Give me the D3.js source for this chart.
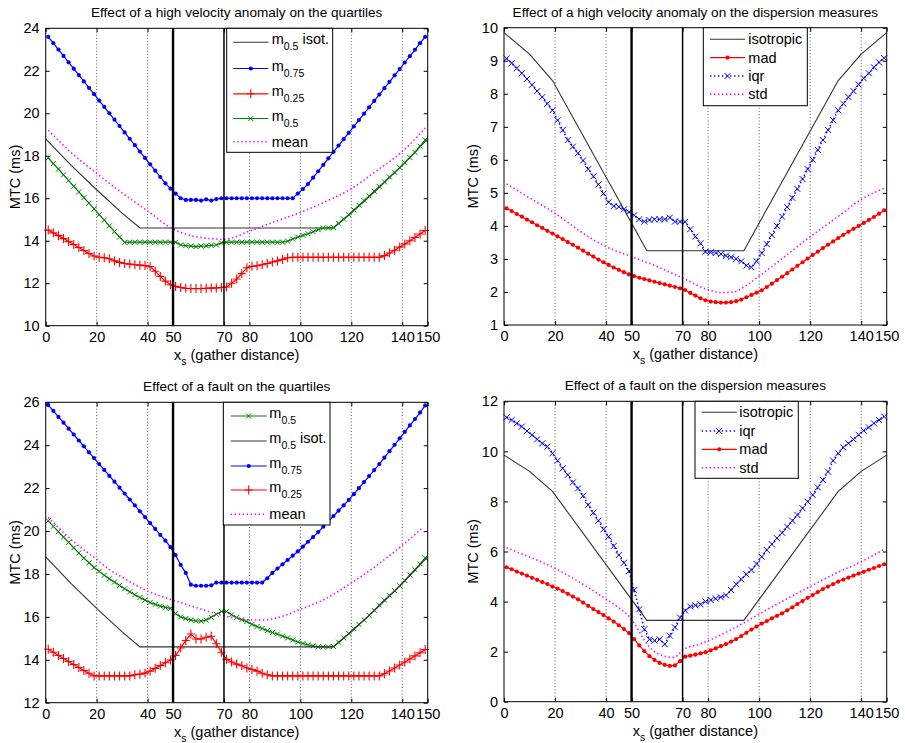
<!DOCTYPE html>
<html><head><meta charset="utf-8">
<script src="https://cdn.jsdelivr.net/npm/d3@7"></script>
<style>body{margin:0;background:#fff}</style>
</head><body><svg id="c" width="905" height="743"></svg>
<script>
// ---------- DATA ----------
const xTicks = [0,20,40,50,70,80,100,120,140,150];
const gridX = [20,40,80,100,120,140];
const anomalyEdges = [50,70];
const gatherX = [1,3,5,7,9,11,13,15,17,19,21,23,25,27,29,31,33,35,37,39,41,43,45,47,49,51,53,55,57,59,61,63,65,67,69,71,73,75,77,79,81,83,85,87,89,91,93,95,97,99,101,103,105,107,109,111,113,115,117,119,121,123,125,127,129,131,133,135,137,139,141,143,145,147,149];

const ticksHV = [10,12,14,16,18,20,22,24];
const ticksHVd = [1,2,3,4,5,6,7,8,9,10];
const ticksF = [12,14,16,18,20,22,24,26];
const ticksFd = [0,2,4,6,8,10,12];

// isotropic reference curves
const isoQuartX = [0,10,20,30,37,113,120,130,140,150];
const isoQuartY = [18.8,17.55,16.4,15.3,14.6,14.6,15.3,16.4,17.55,18.8];
const isoDispX = [0,10,19,56,94,131,140,150];
const isoDispY = [9.85,9.2,8.4,3.25,3.25,8.4,9.2,9.85];

// Panel 1: high velocity anomaly, quartiles
const hvM75 = [23.6,23.3,23.0,22.7,22.4,22.1,21.8,21.5,21.2,20.9,
 20.6,20.3,20.0,19.7,19.4,19.1,18.8,18.5,18.2,17.9,
 17.6,17.3,17.0,16.7,16.45,16.22,16.0,15.92,15.92,15.92,
 15.89,15.95,15.89,15.96,16.0,16.0,16.0,16.0,16.0,16.0,
 16.0,16.0,16.0,16.0,16.0,16.0,16.0,16.0,16.0,16.22,
 16.43,16.67,16.97,17.27,17.57,17.88,18.18,18.48,18.78,19.08,
 19.38,19.68,19.98,20.28,20.58,20.88,21.18,21.48,21.78,22.08,
 22.39,22.69,22.99,23.3,23.6];
const hvM50 = [17.9,17.63,17.37,17.1,16.83,16.57,16.3,16.03,15.77,15.5,
 15.23,14.97,14.7,14.43,14.17,13.92,13.93,13.93,13.93,13.93,
 13.93,13.93,13.93,13.93,13.93,13.93,13.8,13.77,13.75,13.72,
 13.75,13.76,13.78,13.8,13.9,13.93,13.93,13.93,13.93,13.93,
 13.93,13.93,13.93,13.93,13.93,13.93,13.93,13.98,14.08,14.17,
 14.25,14.33,14.42,14.52,14.6,14.6,14.62,14.82,15.02,15.23,
 15.45,15.67,15.89,16.11,16.33,16.55,16.77,17.0,17.22,17.45,
 17.68,17.92,18.16,18.45,18.75];
const hvM25 = [14.5,14.37,14.24,14.1,13.96,13.82,13.68,13.54,13.4,13.28,
 13.22,13.2,13.15,13.05,12.98,12.93,12.9,12.87,12.85,12.83,
 12.78,12.56,12.32,12.1,11.93,11.85,11.8,11.76,11.75,11.75,
 11.75,11.76,11.77,11.78,11.8,11.82,12.0,12.2,12.45,12.73,
 12.8,12.82,12.87,12.93,13.0,13.05,13.12,13.2,13.22,13.22,
 13.22,13.22,13.22,13.22,13.22,13.22,13.22,13.22,13.22,13.22,
 13.22,13.22,13.22,13.22,13.22,13.22,13.3,13.42,13.55,13.7,
 13.85,14.0,14.15,14.32,14.48];
const hvMeanX = [1,10,20,30,40,50,60,70,80,90,100,110,120,130,140,149];
const hvMeanY = [19.2,18.15,17.17,16.25,15.4,14.55,14.17,14.07,14.45,14.9,15.33,15.85,16.45,17.3,18.2,19.3];

// Panel 2: high velocity anomaly, dispersion
const hvIqr = [9.07,8.93,8.77,8.62,8.45,8.27,8.08,7.9,7.7,7.5,
 7.2,6.9,6.6,6.4,6.2,5.98,5.72,5.5,5.25,4.98,
 4.72,4.6,4.58,4.5,4.42,4.32,4.2,4.13,4.18,4.2,
 4.2,4.2,4.25,4.13,4.13,4.12,3.9,3.68,3.47,3.22,
 3.2,3.18,3.15,3.1,3.05,3.0,2.93,2.8,2.75,2.93,
 3.18,3.45,3.72,4.0,4.28,4.57,4.85,5.12,5.42,5.72,
 6.0,6.3,6.6,6.9,7.2,7.5,7.7,7.9,8.08,8.28,
 8.47,8.62,8.8,8.95,9.08];
const hvMad = [4.53,4.45,4.36,4.28,4.19,4.11,4.02,3.94,3.85,3.77,
 3.68,3.6,3.51,3.43,3.34,3.25,3.16,3.07,2.98,2.9,
 2.82,2.74,2.67,2.6,2.53,2.48,2.43,2.39,2.35,2.31,
 2.27,2.23,2.19,2.15,2.11,2.06,1.97,1.89,1.81,1.75,
 1.71,1.69,1.68,1.68,1.69,1.72,1.77,1.84,1.91,1.98,
 2.05,2.15,2.25,2.36,2.46,2.57,2.68,2.79,2.9,3.01,
 3.12,3.22,3.33,3.43,3.53,3.63,3.73,3.82,3.91,4.0,
 4.09,4.18,4.27,4.37,4.47];
const hvStdX = [1,10,20,30,40,50,60,70,80,85,90,95,100,110,120,130,140,149];
const hvStdY = [5.27,4.85,4.38,3.83,3.37,3.07,2.77,2.42,2.07,1.98,2.0,2.2,2.48,3.07,3.67,4.23,4.8,5.14];

// Panel 3: fault, quartiles
const fM50 = [20.48,20.22,19.97,19.72,19.47,19.22,18.98,18.74,18.52,18.3,
 18.12,17.94,17.77,17.62,17.46,17.31,17.17,17.03,16.9,16.78,
 16.67,16.58,16.5,16.44,16.4,16.15,16.0,15.92,15.85,15.82,
 15.8,15.85,15.98,16.12,16.25,16.25,16.1,15.97,15.87,15.78,
 15.65,15.55,15.46,15.36,15.27,15.2,15.1,15.02,14.92,14.83,
 14.76,14.7,14.65,14.6,14.6,14.6,14.62,14.82,15.02,15.23,
 15.45,15.65,15.85,16.07,16.3,16.55,16.78,17.0,17.22,17.45,
 17.7,17.95,18.2,18.47,18.75];
const fM75 = [25.87,25.6,25.32,25.05,24.77,24.5,24.22,23.95,23.67,23.4,
 23.12,22.85,22.57,22.3,22.02,21.75,21.47,21.2,20.92,20.65,
 20.37,20.1,19.82,19.55,19.25,18.88,18.42,18.05,17.5,17.45,
 17.45,17.45,17.47,17.6,17.6,17.6,17.6,17.6,17.6,17.6,
 17.6,17.6,17.6,17.8,18.05,18.25,18.45,18.65,18.85,19.05,
 19.27,19.5,19.72,19.95,20.2,20.45,20.7,20.95,21.2,21.45,
 21.72,22.0,22.28,22.56,22.84,23.12,23.42,23.72,24.02,24.32,
 24.62,24.92,25.22,25.52,25.85];
const fM25 = [14.49,14.35,14.2,14.06,13.92,13.78,13.64,13.5,13.37,13.25,
 13.25,13.25,13.25,13.25,13.25,13.25,13.25,13.3,13.33,13.38,
 13.47,13.6,13.73,13.86,13.99,14.2,14.55,14.9,15.2,14.97,
 14.97,15.05,15.1,14.75,14.35,14.02,13.9,13.8,13.72,13.62,
 13.55,13.47,13.37,13.3,13.25,13.25,13.25,13.25,13.25,13.25,
 13.25,13.25,13.25,13.25,13.25,13.25,13.25,13.25,13.25,13.25,
 13.25,13.25,13.25,13.25,13.25,13.25,13.35,13.48,13.62,13.76,
 13.9,14.04,14.18,14.33,14.48];
const fMeanX = [1,10,20,25,30,40,50,60,70,75,80,85,90,100,110,120,130,140,148];
const fMeanY = [20.64,19.6,18.68,18.2,17.85,17.2,16.78,16.4,16.05,15.93,15.86,15.85,15.93,16.35,16.85,17.58,18.4,19.33,20.15];

// Panel 4: fault, dispersion
const fIqr = [11.36,11.25,11.12,10.99,10.81,10.66,10.48,10.32,10.19,9.92,
 9.63,9.32,9.06,8.76,8.52,8.23,7.86,7.55,7.23,6.89,
 6.59,6.22,5.86,5.55,5.22,4.46,3.69,2.89,2.49,2.44,
 2.49,2.30,2.64,2.97,3.36,3.64,3.80,3.85,3.89,4.0,
 4.06,4.12,4.17,4.25,4.46,4.69,4.89,5.09,5.26,5.50,
 5.79,6.06,6.29,6.53,6.75,6.99,7.23,7.46,7.73,7.99,
 8.26,8.56,8.86,9.19,9.63,9.92,10.16,10.32,10.48,10.66,
 10.83,10.96,11.12,11.25,11.39];
const fMad = [5.37,5.29,5.2,5.12,5.04,4.95,4.87,4.78,4.7,4.6,
 4.52,4.42,4.31,4.2,4.09,3.96,3.83,3.7,3.58,3.46,
 3.33,3.2,3.05,2.9,2.74,2.5,2.25,2.02,1.82,1.67,
 1.55,1.47,1.43,1.45,1.62,1.8,1.84,1.88,1.93,1.98,
 2.05,2.13,2.22,2.3,2.4,2.5,2.62,2.75,2.88,3.0,
 3.12,3.22,3.33,3.43,3.53,3.65,3.77,3.9,4.02,4.15,
 4.26,4.38,4.5,4.6,4.7,4.8,4.88,4.96,5.04,5.12,
 5.19,5.27,5.34,5.42,5.49];
const fStdX = [1,10,20,30,40,45,50,53,55,58,62,66,68,70,77,83,90,96,100,110,120,130,140,149];
const fStdY = [6.15,5.78,5.33,4.75,4.1,3.75,3.29,2.8,2.45,2.08,1.85,1.77,1.85,2.06,2.31,2.57,2.93,3.26,3.5,4.06,4.6,5.13,5.59,6.09];

// ---------- STYLE / LAYOUT ----------
const FONT = "'Liberation Sans', Arial, Helvetica, sans-serif";
const C = {blue:"#0000ff", red:"#ff0000", green:"#008000", mag:"#ff00ff", iso:"#333333"};
const zip = (xa, ya) => xa.map((v,i)=>[v, ya[i]]);

const svg = d3.select("#c");

const panels = [
 { box:[45.7,28.3,427.7,325.7], yDomain:[10,24], yTicks:ticksHV,
   title:"Effect of a high velocity anomaly on the quartiles",
   legend:{box:[226.7,28.3,332.7,152.3], lx:[233.3,268.3], tx:271.7, ys:[42.3,68.5,93.8,118.5,141.7]},
   series:[
    {pts:zip(isoQuartX,isoQuartY), color:C.iso, label:["m","0.5"," isot."]},
    {pts:zip(gatherX,hvM75), color:C.blue, marker:"dot", label:["m","0.75"]},
    {pts:zip(gatherX,hvM25), color:C.red, marker:"plus", label:["m","0.25"]},
    {pts:zip(gatherX,hvM50), color:C.green, marker:"x", label:["m","0.5"]},
    {pts:zip(hvMeanX,hvMeanY), color:C.mag, dotted:true, smooth:true, label:["mean"]}
   ]},
 { box:[504,27.7,886.7,325], yDomain:[1,10], yTicks:ticksHVd,
   title:"Effect of a high velocity anomaly on the dispersion measures",
   legend:{box:[703.3,27.7,807.3,105.7], lx:[710,745], tx:748.3, ys:[39.3,57.7,76,94.3]},
   series:[
    {pts:zip(isoDispX,isoDispY), color:C.iso, label:["isotropic"]},
    {pts:zip(gatherX,hvMad), color:C.red, marker:"dot", label:["mad"]},
    {pts:zip(gatherX,hvIqr), color:C.blue, marker:"xl", dotted:true, label:["iqr"]},
    {pts:zip(hvStdX,hvStdY), color:C.mag, dotted:true, smooth:true, label:["std"]}
   ]},
 { box:[45.7,402.3,427.7,702.7], yDomain:[12,26], yTicks:ticksF,
   title:"Effect of a fault on the quartiles",
   legend:{box:[223.3,402.3,330,525], lx:[230.7,266.7], tx:269.3, ys:[416,441,466,490,514.3]},
   series:[
    {pts:zip(gatherX,fM50), color:C.green, marker:"x", label:["m","0.5"]},
    {pts:zip(isoQuartX,isoQuartY), color:C.iso, label:["m","0.5"," isot."]},
    {pts:zip(gatherX,fM75), color:C.blue, marker:"dot", label:["m","0.75"]},
    {pts:zip(gatherX,fM25), color:C.red, marker:"plus", label:["m","0.25"]},
    {pts:zip(fMeanX,fMeanY), color:C.mag, dotted:true, smooth:true, label:["mean"]}
   ]},
 { box:[504,401.3,886.7,701.7], yDomain:[0,12], yTicks:ticksFd,
   title:"Effect of a fault on the dispersion measures",
   legend:{box:[695,401.3,798.3,478.3], lx:[701.7,736.7], tx:739.3, ys:[412.3,431,449.3,467.7]},
   series:[
    {pts:zip(isoDispX,isoDispY), color:C.iso, label:["isotropic"]},
    {pts:zip(gatherX,fIqr), color:C.blue, marker:"xl", dotted:true, label:["iqr"]},
    {pts:zip(gatherX,fMad), color:C.red, marker:"dot", label:["mad"]},
    {pts:zip(fStdX,fStdY), color:C.mag, dotted:true, smooth:true, label:["std"]}
   ]}
];

function drawMarker(sel, type, color){
  if(type==="dot") sel.append("circle").attr("r",2.1).attr("fill",color);
  else if(type==="plus") sel.append("path").attr("d","M-4,0H4M0,-4.5V4.5").attr("stroke",color).attr("stroke-width",1.1).attr("fill","none");
  else if(type==="x") sel.append("path").attr("d","M-2.5,-2.5L2.5,2.5M-2.5,2.5L2.5,-2.5").attr("stroke",color).attr("stroke-width",1).attr("fill","none");
  else if(type==="xl") sel.append("path").attr("d","M-3,-3L3,3M-3,3L3,-3").attr("stroke",color).attr("stroke-width",1).attr("fill","none");
}

function styleLine(sel, s){
  sel.attr("fill","none").attr("stroke",s.color)
     .attr("stroke-width", s.dotted ? 1.6 : (s.color===C.iso?1.1:1.2));
  if(s.dotted) sel.attr("stroke-dasharray","1.4,2.6");
}

function labelText(sel, parts, x, yBase, subBase){
  const t = sel.append("text").attr("x",x).attr("y",yBase)
     .attr("font-family",FONT).attr("font-size",14.5).attr("fill","#000");
  t.append("tspan").text(parts[0]);
  if(parts.length>1){
    t.append("tspan").attr("font-size",10.5).attr("dy",subBase).text(parts[1]);
    if(parts[2]) t.append("tspan").attr("dy",-subBase).text(parts[2]);
  }
}

panels.forEach(p=>{
  const [x0,y0,x1,y1] = p.box;
  const x = d3.scaleLinear().domain([0,150]).range([x0,x1]);
  const y = d3.scaleLinear().domain(p.yDomain).range([y1,y0]);
  const g = svg.append("g");

  // grid
  g.selectAll("line.grid").data(gridX).join("line")
    .attr("x1",d=>x(d)).attr("x2",d=>x(d)).attr("y1",y0).attr("y2",y1)
    .attr("stroke","#555").attr("stroke-width",1).attr("stroke-dasharray","1,2.2");

  // axes with inward ticks
  const fmtAxis = a => { a.select(".domain").remove();
    a.selectAll("text").attr("font-family",FONT).attr("font-size",14.5).attr("fill","#000");
    a.selectAll("line").attr("stroke","#000"); };
  g.append("g").attr("transform",`translate(0,${y1})`)
    .call(d3.axisBottom(x).tickValues(xTicks).tickSize(-4).tickPadding(6).tickFormat(d3.format("d"))).call(fmtAxis);
  g.append("g").attr("transform",`translate(0,${y0})`)
    .call(d3.axisTop(x).tickValues(xTicks).tickSize(-4).tickFormat(()=>"")).call(fmtAxis);
  g.append("g").attr("transform",`translate(${x0},0)`)
    .call(d3.axisLeft(y).tickValues(p.yTicks).tickSize(-4).tickPadding(6).tickFormat(d3.format("d"))).call(fmtAxis);
  g.append("g").attr("transform",`translate(${x1},0)`)
    .call(d3.axisRight(y).tickValues(p.yTicks).tickSize(-4).tickFormat(()=>"")).call(fmtAxis);

  // series
  p.series.forEach(s=>{
    const line = d3.line().x(d=>x(d[0])).y(d=>y(d[1]));
    if(s.smooth) line.curve(d3.curveMonotoneX);
    g.append("path").datum(s.pts).attr("d",line).call(sel=>styleLine(sel,s));
    if(s.marker){
      g.append("g").selectAll("g").data(s.pts).join("g")
        .attr("transform",d=>`translate(${x(d[0])},${y(d[1])})`)
        .each(function(){ drawMarker(d3.select(this), s.marker, s.color); });
    }
  });

  // anomaly boundary lines
  g.selectAll("line.edge").data(anomalyEdges).join("line")
    .attr("x1",d=>x(d)).attr("x2",d=>x(d)).attr("y1",y0).attr("y2",y1)
    .attr("stroke","#000").attr("stroke-width",(d,i)=>i===0?2.4:1.5);

  // frame
  g.append("rect").attr("x",x0).attr("y",y0).attr("width",x1-x0).attr("height",y1-y0)
    .attr("fill","none").attr("stroke","#000").attr("stroke-width",1);

  // legend
  const L = p.legend;
  const lg = g.append("g");
  lg.append("rect").attr("x",L.box[0]).attr("y",L.box[1]).attr("width",L.box[2]-L.box[0]).attr("height",L.box[3]-L.box[1])
    .attr("fill","#fff").attr("stroke","#000").attr("stroke-width",1);
  p.series.forEach((s,i)=>{
    const ly = L.ys[i];
    lg.append("line").attr("x1",L.lx[0]).attr("x2",L.lx[1]).attr("y1",ly).attr("y2",ly).call(sel=>styleLine(sel,s));
    if(s.marker) drawMarker(lg.append("g").attr("transform",`translate(${(L.lx[0]+L.lx[1])/2},${ly})`), s.marker, s.color);
    const sub = s.label.length>1;
    labelText(lg, s.label, L.tx, sub ? ly+2 : ly+5, 6);
  });

  // title
  g.append("text").attr("x",(x0+x1)/2).attr("y",y0-11).attr("text-anchor","middle")
    .attr("font-family",FONT).attr("font-size",13.6).attr("fill","#000").text(p.title);
  // x label
  const xl = g.append("text").attr("x",(x0+x1)/2).attr("y",y1+34).attr("text-anchor","middle")
    .attr("font-family",FONT).attr("font-size",14.5).attr("fill","#000");
  xl.append("tspan").text("x");
  xl.append("tspan").attr("font-size",10.5).attr("dy",5).text("s");
  xl.append("tspan").attr("dy",-5).text(" (gather distance)");
  // y label
  g.append("text").attr("transform",`translate(${x0-26},${(y0+y1)/2}) rotate(-90)`).attr("text-anchor","middle")
    .attr("font-family",FONT).attr("font-size",14.5).attr("fill","#000").text("MTC (ms)");
});
</script></body></html>
